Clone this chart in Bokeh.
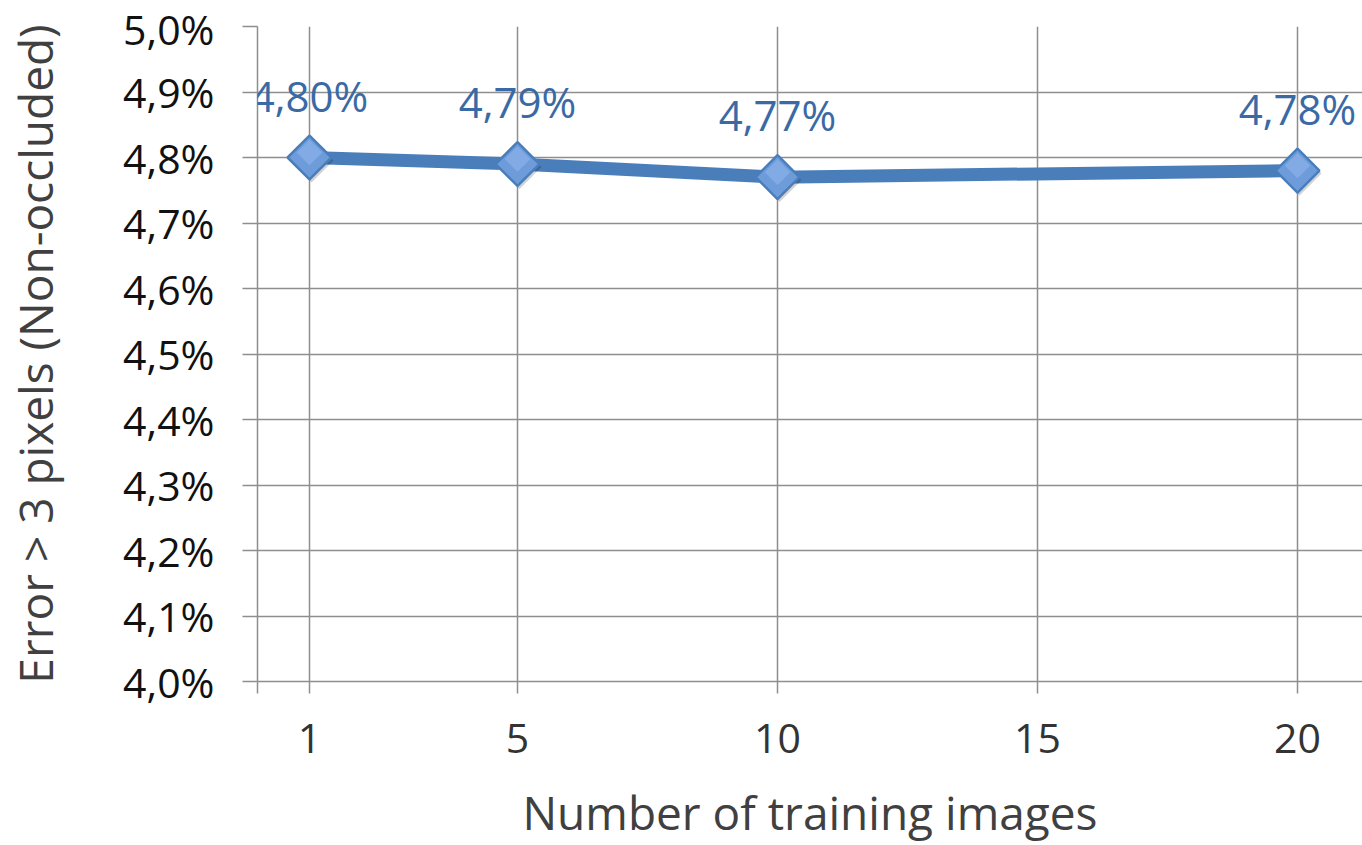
from bokeh.plotting import figure
from bokeh.models import (ColumnDataSource, Range1d, FixedTicker, LabelSet,
                          CustomJSTickFormatter)
from bokeh.core.properties import value
from bokeh.transform import dodge
from bokeh.embed import file_html
from bokeh.resources import INLINE

# Error rate (%) versus number of training images
train_images = [1, 5, 10, 20]
error_pct = [4.80, 4.79, 4.77, 4.78]
error_labels = ["4,80%", "4,79%", "4,77%", "4,78%"]

x_ticks = [0, 1, 5, 10, 15, 20]
x_tick_labels = {0: "", 1: "1", 5: "5", 10: "10", 15: "15", 20: "20"}
y_ticks = [4.0, 4.1, 4.2, 4.3, 4.4, 4.5, 4.6, 4.7, 4.8, 4.9, 5.0]

FONT = "Open Sans"
GRID = "#8E8E8E"
LINE = "#4A7EBB"

src = ColumnDataSource(dict(x=train_images, y=error_pct, label=error_labels))

p = figure(width=1362, height=845, output_backend="svg", toolbar_location=None,
           x_range=Range1d(0, 21.25), y_range=Range1d(4.0, 5.0),
           min_border_left=257, min_border_right=0,
           min_border_top=26, min_border_bottom=162)
p.outline_line_color = None
p.background_fill_color = "white"
p.border_fill_color = "white"

# axes
p.xaxis.ticker = FixedTicker(ticks=x_ticks, minor_ticks=[])
p.xaxis.major_label_overrides = x_tick_labels
p.yaxis.ticker = FixedTicker(ticks=y_ticks, minor_ticks=[])
p.yaxis.formatter = CustomJSTickFormatter(
    code="return tick.toFixed(1).replace('.', ',') + '%';")

for ax in (p.xaxis[0], p.yaxis[0]):
    ax.axis_line_color = GRID
    ax.axis_line_width = 1.5
    ax.major_tick_line_color = GRID
    ax.major_tick_line_width = 1.5
    ax.major_tick_in = 0
    ax.minor_tick_line_color = None
    ax.major_label_text_font = FONT
    ax.major_label_text_font_size = "41px"
    ax.axis_label_text_font = FONT
    ax.axis_label_text_font_style = "normal"
    ax.axis_label_text_color = "#404040"

p.xaxis.major_tick_out = 12
p.xaxis.major_label_standoff = 30
p.xaxis.major_label_text_color = "#333333"
p.xaxis.axis_label = "Number of training images"
p.xaxis.axis_label_text_font_size = "46px"
p.xaxis.axis_label_standoff = 25

p.yaxis.major_tick_out = 15
p.yaxis.major_label_standoff = 28
p.yaxis.major_label_text_color = "#111111"
p.yaxis.axis_label = "Error > 3 pixels (Non-occluded)"
p.yaxis.axis_label_text_font_size = "46px"
p.yaxis.axis_label_standoff = 54

p.xgrid.ticker = FixedTicker(ticks=x_ticks)
p.ygrid.ticker = FixedTicker(ticks=y_ticks)
for g in (p.xgrid[0], p.ygrid[0]):
    g.grid_line_color = GRID
    g.grid_line_width = 1.5

# series line
p.line("x", "y", source=src, line_color=LINE, line_width=13, line_join="round")

# diamond markers with a soft drop shadow and a lighter upper highlight
p.scatter(dodge("x", 0.04, range=p.x_range), dodge("y", -0.0046, range=p.y_range),
          source=src, marker="square", angle=0.785398, size=31,
          fill_color="#000000", fill_alpha=0.18, line_color=None)
p.scatter("x", "y", source=src, marker="square", angle=0.785398, size=31,
          fill_color="#6E9CDB", line_color="#4A7EBB", line_width=2.5)
p.scatter("x", dodge("y", 0.0076, range=p.y_range), source=src,
          marker="square", angle=0.785398, size=18,
          fill_color="#93B8EC", fill_alpha=0.55, line_color=None)

# data labels
labels = LabelSet(x="x", y="y", text="label", source=src,
                  text_align="center", text_baseline="alphabetic",
                  y_offset=46, text_font=value(FONT), text_font_size="42px",
                  text_color="#3A6AA6")
p.add_layout(labels)

open("out.html", "w").write(file_html(p, INLINE))
